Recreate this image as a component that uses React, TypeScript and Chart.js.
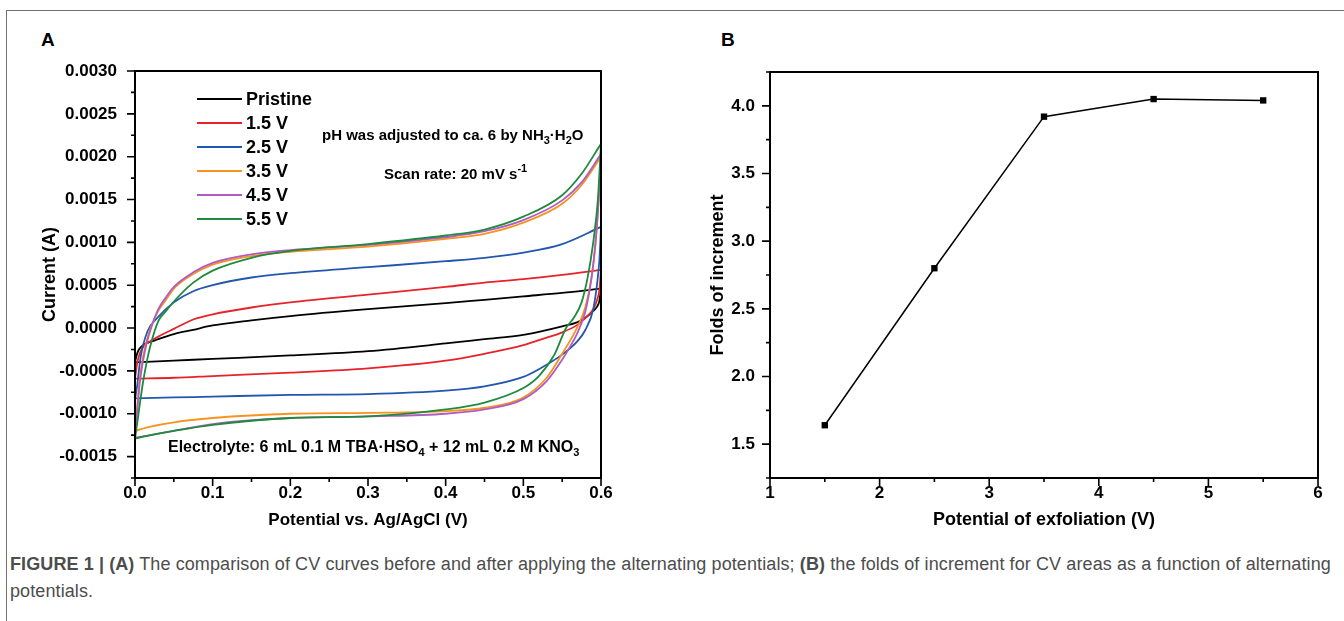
import React, { useEffect, useRef } from "react";
import { Chart, registerables } from "chart.js";

Chart.register(...registerables);

// ---------------- Panel A: CV curves ----------------
const CV_LABELS = ["Pristine", "1.5 V", "2.5 V", "3.5 V", "4.5 V", "5.5 V"];
const CV_COLORS = ["#000000", "#E8222A", "#2356AE", "#F7931E", "#B05CC0", "#1E8A3C"];

// forward (upper) branches, x = potential (V), y = current (A)
const pristineUpper = [[0,-0.0004],[0.002,-0.00032],[0.005,-0.00025],[0.012,-0.00019],[0.02,-0.00016],[0.03,-0.00013],[0.05,-0.00007],[0.075,-0.00002],[0.1,0.00003],[0.15,0.00009],[0.2,0.00014],[0.3,0.00022],[0.4,0.00029],[0.45,0.00033],[0.5,0.00037],[0.55,0.00041],[0.6,0.00046]];
const v15Upper = [[0,-0.00059],[0.003,-0.0004],[0.006,-0.0003],[0.012,-0.0002],[0.02,-0.00015],[0.03,-0.0001],[0.05,-0.00001],[0.075,0.0001],[0.1,0.00016],[0.15,0.00024],[0.2,0.0003],[0.3,0.00039],[0.4,0.00048],[0.45,0.00053],[0.5,0.00057],[0.55,0.00062],[0.6,0.00068]];
const v25Upper = [[0,-0.00083],[0.003,-0.00066],[0.007,-0.00035],[0.016,-0.00004],[0.03,0.00013],[0.05,0.0003],[0.075,0.00043],[0.1,0.0005],[0.15,0.00059],[0.2,0.00064],[0.3,0.00071],[0.4,0.00078],[0.45,0.00082],[0.5,0.00088],[0.55,0.00098],[0.6,0.00118]];
const v35Upper = [[0,-0.0012],[0.003,-0.0009],[0.006,-0.0006],[0.01,-0.00035],[0.015,-0.00015],[0.02,0.0],[0.03,0.0002],[0.04,0.00033],[0.05,0.00046],[0.075,0.00063],[0.1,0.00074],[0.15,0.00084],[0.2,0.00089],[0.3,0.00095],[0.4,0.00104],[0.45,0.0011],[0.5,0.00123],[0.55,0.00145],[0.575,0.00167],[0.6,0.002]];
const v45Upper = [[0,-0.00128],[0.003,-0.00095],[0.006,-0.00065],[0.01,-0.0004],[0.015,-0.00018],[0.02,-0.00002],[0.03,0.00022],[0.04,0.00036],[0.05,0.00048],[0.075,0.00065],[0.1,0.00076],[0.15,0.00086],[0.2,0.00091],[0.3,0.00097],[0.4,0.00106],[0.45,0.00113],[0.5,0.00126],[0.55,0.00149],[0.575,0.0017],[0.6,0.00203]];
const v55Upper = [[0,-0.00129],[0.003,-0.0011],[0.006,-0.0009],[0.01,-0.00065],[0.015,-0.0004],[0.02,-0.0002],[0.03,0.00008],[0.04,0.0002],[0.05,0.00031],[0.075,0.00053],[0.1,0.00067],[0.15,0.00082],[0.2,0.0009],[0.3,0.00098],[0.4,0.00108],[0.45,0.00115],[0.5,0.0013],[0.55,0.00155],[0.575,0.0018],[0.6,0.00215]];

// reverse (lower) branches, listed with increasing potential
const pristineLower = [[0,-0.0004],[0.05,-0.00038],[0.1,-0.00036],[0.2,-0.00032],[0.3,-0.00027],[0.4,-0.00018],[0.45,-0.00013],[0.5,-0.00008],[0.55,0.00002],[0.57,0.00007],[0.58,0.00012],[0.59,0.0002],[0.595,0.00025],[0.598,0.00032],[0.6,0.00046]];
const v15Lower = [[0,-0.00059],[0.05,-0.00058],[0.1,-0.00056],[0.2,-0.00052],[0.3,-0.00047],[0.4,-0.00038],[0.45,-0.0003],[0.5,-0.0002],[0.52,-0.00014],[0.55,-0.00005],[0.57,0.00004],[0.58,0.00012],[0.59,0.00022],[0.595,0.00033],[0.598,0.00045],[0.6,0.00068]];
const v25Lower = [[0,-0.00082],[0.05,-0.00081],[0.1,-0.0008],[0.2,-0.00078],[0.3,-0.00077],[0.4,-0.00073],[0.45,-0.00068],[0.5,-0.00057],[0.52,-0.00048],[0.55,-0.00031],[0.57,-0.00015],[0.58,-0.00002],[0.59,0.00022],[0.595,0.00052],[0.598,0.0008],[0.6,0.00118]];
const v35Lower = [[0,-0.0012],[0.02,-0.00115],[0.05,-0.0011],[0.1,-0.00105],[0.2,-0.001],[0.3,-0.00099],[0.4,-0.00097],[0.45,-0.00093],[0.5,-0.00081],[0.53,-0.00058],[0.55,-0.0003],[0.56,-0.00015],[0.57,0.00002],[0.58,0.00025],[0.588,0.0006],[0.593,0.001],[0.597,0.0015],[0.6,0.002]];
const v45Lower = [[0,-0.00128],[0.02,-0.00125],[0.05,-0.0012],[0.1,-0.00112],[0.2,-0.00105],[0.3,-0.00103],[0.4,-0.001],[0.45,-0.00095],[0.5,-0.00083],[0.53,-0.00062],[0.55,-0.00037],[0.56,-0.00022],[0.57,-0.00005],[0.58,0.0002],[0.588,0.0006],[0.593,0.001],[0.597,0.0015],[0.6,0.00203]];
const v55Lower = [[0,-0.00129],[0.02,-0.00125],[0.05,-0.0012],[0.1,-0.00113],[0.2,-0.00105],[0.3,-0.00103],[0.4,-0.00095],[0.45,-0.00087],[0.5,-0.0007],[0.52,-0.00056],[0.54,-0.00031],[0.555,0.0],[0.565,0.00012],[0.575,0.0003],[0.583,0.0006],[0.59,0.001],[0.596,0.0015],[0.6,0.00215]];

const CV_UPPER = [pristineUpper, v15Upper, v25Upper, v35Upper, v45Upper, v55Upper];
const CV_LOWER = [pristineLower, v15Lower, v25Lower, v35Lower, v45Lower, v55Lower];

const A_X_TICKS = [0, 0.1, 0.2, 0.3, 0.4, 0.5, 0.6];
const A_Y_TICKS = [-0.0015, -0.001, -0.0005, 0, 0.0005, 0.001, 0.0015, 0.002, 0.0025, 0.003];

// ---------------- Panel B: folds of increment ----------------
const B_POTENTIAL = [1.5, 2.5, 3.5, 4.5, 5.5];
const B_FOLDS = [1.64, 2.8, 3.92, 4.05, 4.04];
const B_X_TICKS = [1, 2, 3, 4, 5, 6];
const B_Y_TICKS = [1.5, 2.0, 2.5, 3.0, 3.5, 4.0];

const FONT = '"Liberation Sans", Arial, Helvetica, sans-serif';

function midpoints(t: number[]) {
  const out: number[] = [];
  for (let i = 0; i < t.length - 1; i++) out.push((t[i] + t[i + 1]) / 2);
  return out;
}

function framePlugin(xMaj: number[], yMaj: number[], xMinExtra: number[], yMinExtra: number[]) {
  return {
    id: "frameTicks",
    afterDraw(chart: any) {
      const { ctx, chartArea: a, scales } = chart;
      const xs = scales.x, ys = scales.y;
      ctx.save();
      ctx.strokeStyle = "#000";
      ctx.lineWidth = 2;
      ctx.strokeRect(a.left, a.top, a.right - a.left, a.bottom - a.top);
      ctx.lineWidth = 1.6;
      const xMin = midpoints(xMaj).concat(xMinExtra);
      const yMin = midpoints(yMaj).concat(yMinExtra);
      ctx.beginPath();
      for (const v of xMaj) { const p = xs.getPixelForValue(v); ctx.moveTo(p, a.bottom); ctx.lineTo(p, a.bottom + 8); }
      for (const v of xMin) { const p = xs.getPixelForValue(v); ctx.moveTo(p, a.bottom); ctx.lineTo(p, a.bottom + 4); }
      for (const v of yMaj) { const p = ys.getPixelForValue(v); ctx.moveTo(a.left, p); ctx.lineTo(a.left - 8, p); }
      for (const v of yMin) { const p = ys.getPixelForValue(v); ctx.moveTo(a.left, p); ctx.lineTo(a.left - 4, p); }
      ctx.stroke();
      ctx.restore();
    },
  };
}

const tickFont = { family: FONT, size: 17, weight: "bold" as const };
const titleFont = { family: FONT, size: 18, weight: "bold" as const };
const titleFontA = { family: FONT, size: 17, weight: "bold" as const };

function fixX(h: number) {
  return (s: any) => { s.height = h; s.paddingLeft = 0; s.paddingRight = 0; s.paddingTop = 0; s.paddingBottom = 0; };
}
function fixY(w: number) {
  return (s: any) => { s.width = w; s.paddingLeft = 0; s.paddingRight = 0; s.paddingTop = 0; s.paddingBottom = 0; };
}

function makeConfigA(): any {
  const datasets: any[] = [];
  for (let i = CV_LABELS.length - 1; i >= 0; i--) {
    for (const branch of [CV_UPPER[i], CV_LOWER[i]]) {
      datasets.push({
        label: CV_LABELS[i],
        data: branch.map(([x, y]) => ({ x, y })),
        borderColor: CV_COLORS[i],
        borderWidth: 1.8,
        pointRadius: 0,
        showLine: true,
        fill: false,
        cubicInterpolationMode: "monotone",
      });
    }
  }
  return {
    type: "scatter",
    data: { datasets },
    options: {
      animation: false,
      responsive: false,
      layout: { padding: { top: 11, right: 19, left: 0, bottom: 0 } },
      plugins: { legend: { display: false }, tooltip: { enabled: false } },
      scales: {
        x: {
          type: "linear", min: 0, max: 0.6,
          grid: { display: false, drawTicks: false }, border: { display: false },
          afterBuildTicks: (s: any) => { s.ticks = A_X_TICKS.map((v) => ({ value: v })); },
          afterFit: fixX(62),
          ticks: { color: "#000", font: tickFont, padding: 5, maxRotation: 0, autoSkip: false, callback: (v: any) => Number(v).toFixed(1) },
          title: { display: true, text: "Potential vs. Ag/AgCl (V)", color: "#000", font: titleFontA, padding: { top: 0, bottom: 9 } },
        },
        y: {
          type: "linear", min: -0.00175, max: 0.003,
          grid: { display: false, drawTicks: false }, border: { display: false },
          afterBuildTicks: (s: any) => { s.ticks = A_Y_TICKS.map((v) => ({ value: v })); },
          afterFit: fixY(135),
          ticks: { color: "#000", font: tickFont, padding: 18, autoSkip: false, callback: (v: any) => Number(v).toFixed(4) },
          title: { display: true, text: "Current (A)", color: "#000", font: titleFont, padding: { top: 39, bottom: 0 } },
        },
      },
    },
    plugins: [framePlugin(A_X_TICKS, A_Y_TICKS, [], [-0.00175])],
  };
}

function makeConfigB(): any {
  return {
    type: "scatter",
    data: {
      datasets: [{
        label: "Folds of increment",
        data: B_POTENTIAL.map((x, i) => ({ x, y: B_FOLDS[i] })),
        borderColor: "#000",
        backgroundColor: "#000",
        borderWidth: 1.5,
        showLine: true,
        pointStyle: "rect",
        pointRadius: 4.5,
        pointBorderWidth: 0,
      }],
    },
    options: {
      animation: false,
      responsive: false,
      layout: { padding: { top: 12, right: 26, left: 0, bottom: 0 } },
      plugins: { legend: { display: false }, tooltip: { enabled: false } },
      scales: {
        x: {
          type: "linear", min: 1, max: 6,
          grid: { display: false, drawTicks: false }, border: { display: false },
          afterBuildTicks: (s: any) => { s.ticks = B_X_TICKS.map((v) => ({ value: v })); },
          afterFit: fixX(62),
          ticks: { color: "#000", font: tickFont, padding: 5, maxRotation: 0, autoSkip: false, callback: (v: any) => String(v) },
          title: { display: true, text: "Potential of exfoliation (V)", color: "#000", font: titleFont, padding: { top: 0, bottom: 9 } },
        },
        y: {
          type: "linear", min: 1.25, max: 4.25,
          grid: { display: false, drawTicks: false }, border: { display: false },
          afterBuildTicks: (s: any) => { s.ticks = B_Y_TICKS.map((v) => ({ value: v })); },
          afterFit: fixY(90),
          ticks: { color: "#000", font: tickFont, padding: 15, autoSkip: false, callback: (v: any) => Number(v).toFixed(1) },
          title: { display: true, text: "Folds of increment", color: "#000", font: titleFont, padding: { top: 27, bottom: 0 } },
        },
      },
    },
    plugins: [framePlugin(B_X_TICKS, B_Y_TICKS, [], [1.25, 4.25])],
  };
}

const abs = (l: number, t: number, extra: any = {}) => ({ position: "absolute" as const, left: l, top: t, ...extra });
const boldText = { fontFamily: FONT, fontWeight: 700, fontSize: 16, color: "#000", whiteSpace: "nowrap" as const, lineHeight: "20px" };
const sub = { fontSize: 11, verticalAlign: "-4px", lineHeight: 0 };
const sup = { fontSize: 11, verticalAlign: "7px", lineHeight: 0 };

const LEGEND_ROW_Y = [99, 123, 147, 171, 195, 219];

export default function App() {
  const refA = useRef<HTMLCanvasElement>(null);
  const refB = useRef<HTMLCanvasElement>(null);
  useEffect(() => {
    document.body.style.margin = "0";
    const a = new Chart(refA.current!, makeConfigA());
    const b = new Chart(refB.current!, makeConfigB());
    return () => { a.destroy(); b.destroy(); };
  }, []);

  return (
    <div style={{ position: "relative", width: 1344, height: 621, background: "#fff", overflow: "hidden", fontFamily: FONT }}>
      <div style={{ position: "absolute", left: 6, top: 10, right: -2, bottom: -2, borderTop: "1.5px solid #707070", borderLeft: "1.5px solid #707070" }} />
      <canvas ref={refA} width={620} height={480} style={abs(0, 60, { width: 620, height: 480 })} />
      <canvas ref={refB} width={664} height={480} style={abs(680, 60, { width: 664, height: 480 })} />

      <div style={{ ...abs(41, 30), ...boldText, fontSize: 19 }}>A</div>
      <div style={{ ...abs(721, 30), ...boldText, fontSize: 19 }}>B</div>

      {CV_LABELS.map((lab, i) => (
        <div key={lab} style={{ ...abs(197, LEGEND_ROW_Y[i] - 10), ...boldText, display: "flex", alignItems: "center", height: 20 }}>
          <span style={{ display: "inline-block", width: 45, height: 2, background: CV_COLORS[i], marginRight: 4 }} />
          <span style={{ fontSize: 18 }}>{lab}</span>
        </div>
      ))}

      <div style={{ ...abs(322, 125), ...boldText, fontSize: 15 }}>
        pH was adjusted to ca. 6 by NH<span style={sub}>3</span>·H<span style={sub}>2</span>O
      </div>
      <div style={{ ...abs(384, 164), ...boldText, fontSize: 15 }}>
        Scan rate: 20 mV s<span style={sup}>-1</span>
      </div>
      <div style={{ ...abs(168, 437), ...boldText }}>
        Electrolyte: 6 mL 0.1 M TBA·HSO<span style={sub}>4</span> + 12 mL 0.2 M KNO<span style={sub}>3</span>
      </div>

      <div style={{ ...abs(10, 551), fontFamily: FONT, fontSize: 18, letterSpacing: "0.1px", color: "#4d4d4d", lineHeight: "27px", width: 1334, whiteSpace: "nowrap" }}>
        <b>FIGURE 1 | (A)</b> The comparison of CV curves before and after applying the alternating potentials; <b>(B)</b> the folds of increment for CV areas as a function of alternating
        <br />potentials.
      </div>
    </div>
  );
}
